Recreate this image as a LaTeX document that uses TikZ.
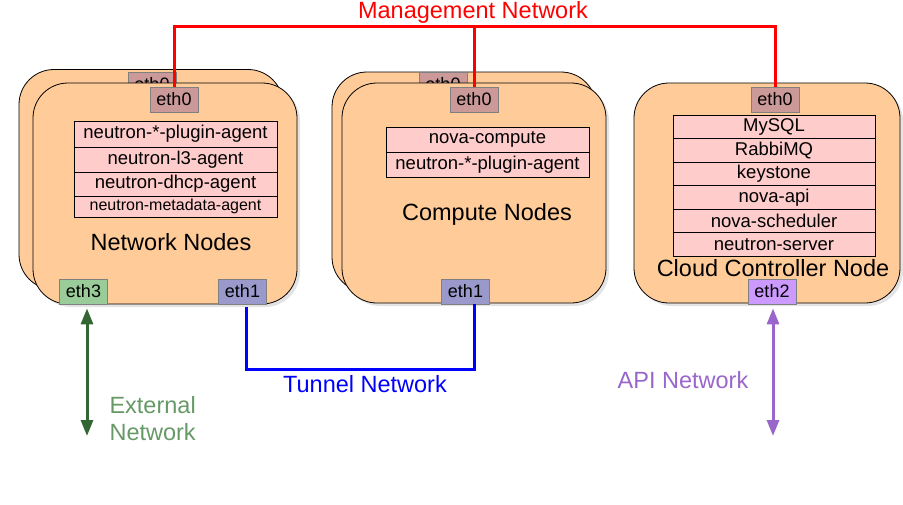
\documentclass[tikz,border=0pt]{standalone}
\usepackage{fontspec}
\setmainfont{Liberation Sans}
\usetikzlibrary{arrows.meta,shadows}

\definecolor{hostfill}{HTML}{FFCC99}
\definecolor{svcfill}{HTML}{FFCCCC}
\definecolor{mgmtnic}{HTML}{CC9999}
\definecolor{tunnic}{HTML}{9999CC}
\definecolor{extnic}{HTML}{99CC99}
\definecolor{apinic}{HTML}{CC99FF}
\definecolor{extline}{HTML}{336633}
\definecolor{exttext}{HTML}{669966}
\definecolor{apicol}{HTML}{9966CC}

\tikzset{
  hostbox/.style={draw=black, fill=hostfill, line width=0.8pt, rounded corners=35pt,
    minimum width=264pt, minimum height=220pt, inner sep=0pt,
    drop shadow={shadow xshift=3pt, shadow yshift=-3pt, fill=black!22}},
  nic/.style={draw=gray, line width=0.8pt, minimum width=48pt, minimum height=25pt,
    inner sep=0pt, font=\fontsize{18}{20}\selectfont},
  svc/.style={draw=black, fill=svcfill, line width=0.8pt, minimum width=203pt,
    inner sep=0pt, font=\fontsize{18.5}{20}\selectfont},
  biglabel/.style={font=\fontsize{23.5}{27}\selectfont},
  netline/.style={line width=3pt},
  netarrow/.style={line width=3pt, {Triangle[length=16pt,width=12pt]}-{Triangle[length=16pt,width=12pt]}}
}

\begin{document}
\begin{tikzpicture}[x=1pt, y=-1pt]
\useasboundingbox (0,0) rectangle (903,504);

%% The back copies of the network and compute hosts come first, so the front boxes cover them and only their top edge peeks out.
\node[hostbox] (netback) at (151,179.5) {};
\node[nic, fill=mgmtnic] (netback0) at (152,84.5) {eth0};
\node[nic, fill=extnic] (netback3) at (69.5,277.5) {};
\node[nic, fill=tunnic] (netback1) at (228.5,277.5) {};

\node[hostbox] (cmpback) at (464,182) {};
\node[nic, fill=mgmtnic] (cmpback0) at (443,84.5) {eth0};

%% Network nodes, front box with its services stacked as a table.
\node[hostbox, minimum height=221pt] (net) at (165,193.5) {};
\node[nic, fill=mgmtnic] (net0) at (174,99.5) {eth0};
\node[svc, minimum height=26pt] (netsvc1) at (175.5,134) {neutron-*-plugin-agent};
\node[svc, minimum height=25pt] (netsvc2) at (175.5,159.5) {neutron-l3-agent};
\node[svc, minimum height=24pt] (netsvc3) at (175.5,184) {neutron-dhcp-agent};
\node[svc, minimum height=21pt, font=\fontsize{16}{17}\selectfont] (netsvc4) at (175.5,206.5) {neutron-metadata-agent};
\node[biglabel] (netlabel) at (171,242) {Network Nodes};
\node[nic, fill=extnic] (net3) at (83.5,291.5) {eth3};
\node[nic, fill=tunnic] (net1) at (242.5,291.5) {eth1};

%% Compute nodes
\node[hostbox] (cmp) at (474,193) {};
\node[nic, fill=mgmtnic] (cmp0) at (474,99.5) {eth0};
\node[svc, minimum height=25pt] (cmpsvc1) at (487.5,139.5) {nova-compute};
\node[svc, minimum height=25pt] (cmpsvc2) at (487.5,164.5) {neutron-*-plugin-agent};
\node[biglabel] (cmplabel) at (487,214) {Compute Nodes};
\node[nic, fill=tunnic] (cmp1) at (465.5,291.5) {eth1};

%% Cloud controller node
\node[hostbox, minimum width=266pt] (ctl) at (767,193) {};
\node[nic, fill=mgmtnic] (ctl0) at (775,99.5) {eth0};
\node[svc, minimum width=202pt, minimum height=23.5pt] (ctlsvc1) at (774,126.75) {MySQL};
\node[svc, minimum width=202pt, minimum height=23.5pt] (ctlsvc2) at (774,150.25) {RabbiMQ};
\node[svc, minimum width=202pt, minimum height=23.5pt] (ctlsvc3) at (774,173.75) {keystone};
\node[svc, minimum width=202pt, minimum height=23.5pt] (ctlsvc4) at (774,197.25) {nova-api};
\node[svc, minimum width=202pt, minimum height=23.5pt] (ctlsvc5) at (774,220.75) {nova-scheduler};
\node[svc, minimum width=202pt, minimum height=23.5pt] (ctlsvc6) at (774,244.25) {neutron-server};
\node[biglabel] (ctllabel) at (773,268) {Cloud Controller Node};
\node[nic, fill=apinic] (ctl2) at (772,291.5) {eth2};

%% Management network joins every eth0 from above.
\coordinate (mgL) at (174,26);
\draw[netline, red] (net0.north) -- (net0.north |- mgL) -- (ctl0.north |- mgL) -- (ctl0.north);
\draw[netline, red] (cmp0.north |- mgL) -- (cmp0.north);
\node[biglabel, text=red] (mgmttext) at (473,12) {Management Network};

%% Tunnel network runs under the two eth1 ports.
\coordinate (tunL) at (246,369);
\coordinate (tunR) at (474,369);
\draw[netline, blue, shorten <=3pt] (net1.south -| tunL) -- (tunL) -- (tunR) -- (cmp1.south -| tunR);
\node[biglabel, text=blue] (tuntext) at (365,384) {Tunnel Network};

%% External and API networks are double headed arrows.
\coordinate (extbot) at (87,436);
\draw[netarrow, color=extline, shorten <=4pt] (net3.south -| extbot) -- (extbot);
\node[biglabel, text=exttext, align=left, anchor=west] (exttxt) at (106,419) {External\\Network};

\coordinate (apibot) at (773,436);
\draw[netarrow, color=apicol, shorten <=4pt] (ctl2.south -| apibot) -- (apibot);
\node[biglabel, text=apicol] (apitext) at (683,380) {API Network};
\end{tikzpicture}
\end{document}
